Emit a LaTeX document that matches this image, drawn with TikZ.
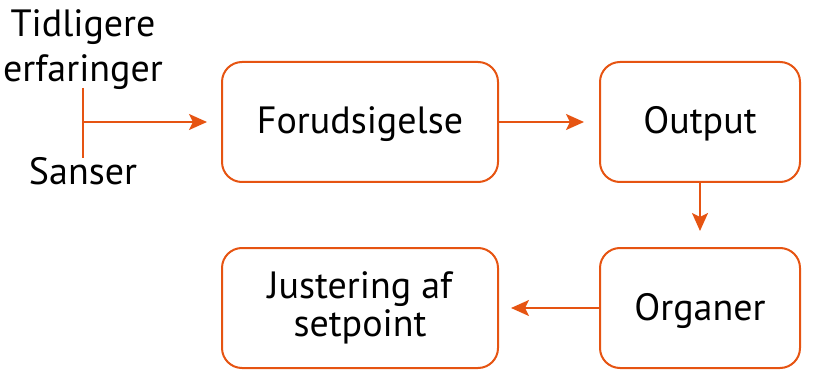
\documentclass[tikz,border=0pt]{standalone}
\usepackage{fontspec}
\setmainfont{PT Sans}
\usetikzlibrary{positioning, arrows.meta}
\definecolor{flow}{RGB}{230,84,18}
\tikzset{>={Stealth[length=18pt, width=16pt, inset=4pt]}}
\tikzset{
  box/.style={draw=flow, line width=2pt, rounded corners=20pt,
    minimum height=120pt, align=center, font=\fontsize{38}{38}\selectfont},
  oneline/.style={text height=30pt, text depth=6pt},
  word/.style={align=center, inner sep=0pt, font=\fontsize{38}{45}\selectfont},
  flowline/.style={draw=flow, line width=2pt},
}

\begin{document}
\begin{tikzpicture}[x=1pt, y=-1pt]
  \useasboundingbox (0,0) rectangle (821,374);
  % the four steps
  \node[box, oneline, minimum width=276pt] (forudsigelse) at (360,122) {Forudsigelse};
  \node[box, oneline, minimum width=200pt] (output) at (700,122) {Output};
  \node[box, oneline, minimum width=200pt] (organer) at (700,308) {Organer};
  \node[box, minimum width=276pt] (justering) at (360,308) {Justering af\\setpoint};
  % inputs on the left
  \node[word] (tidligere) at (83,50) {Tidligere\\erfaringer};
  \node[word, anchor=base] (sanser) at (83,185) {Sanser};
  \coordinate (top) at (83,88);
  \coordinate (bottom) at (83,158);
  \coordinate (join) at (83,122);
  \draw[flowline] (top) -- (bottom);
  \draw[flowline, ->, shorten >=14pt] (join) -- (forudsigelse.west);
  % connectors
  \draw[flowline, ->, shorten >=15pt] (forudsigelse) -- (output);
  \draw[flowline, ->, shorten >=16pt] (output) -- (organer);
  \draw[flowline, ->, shorten >=12pt] (organer) -- (justering);
\end{tikzpicture}
\end{document}
